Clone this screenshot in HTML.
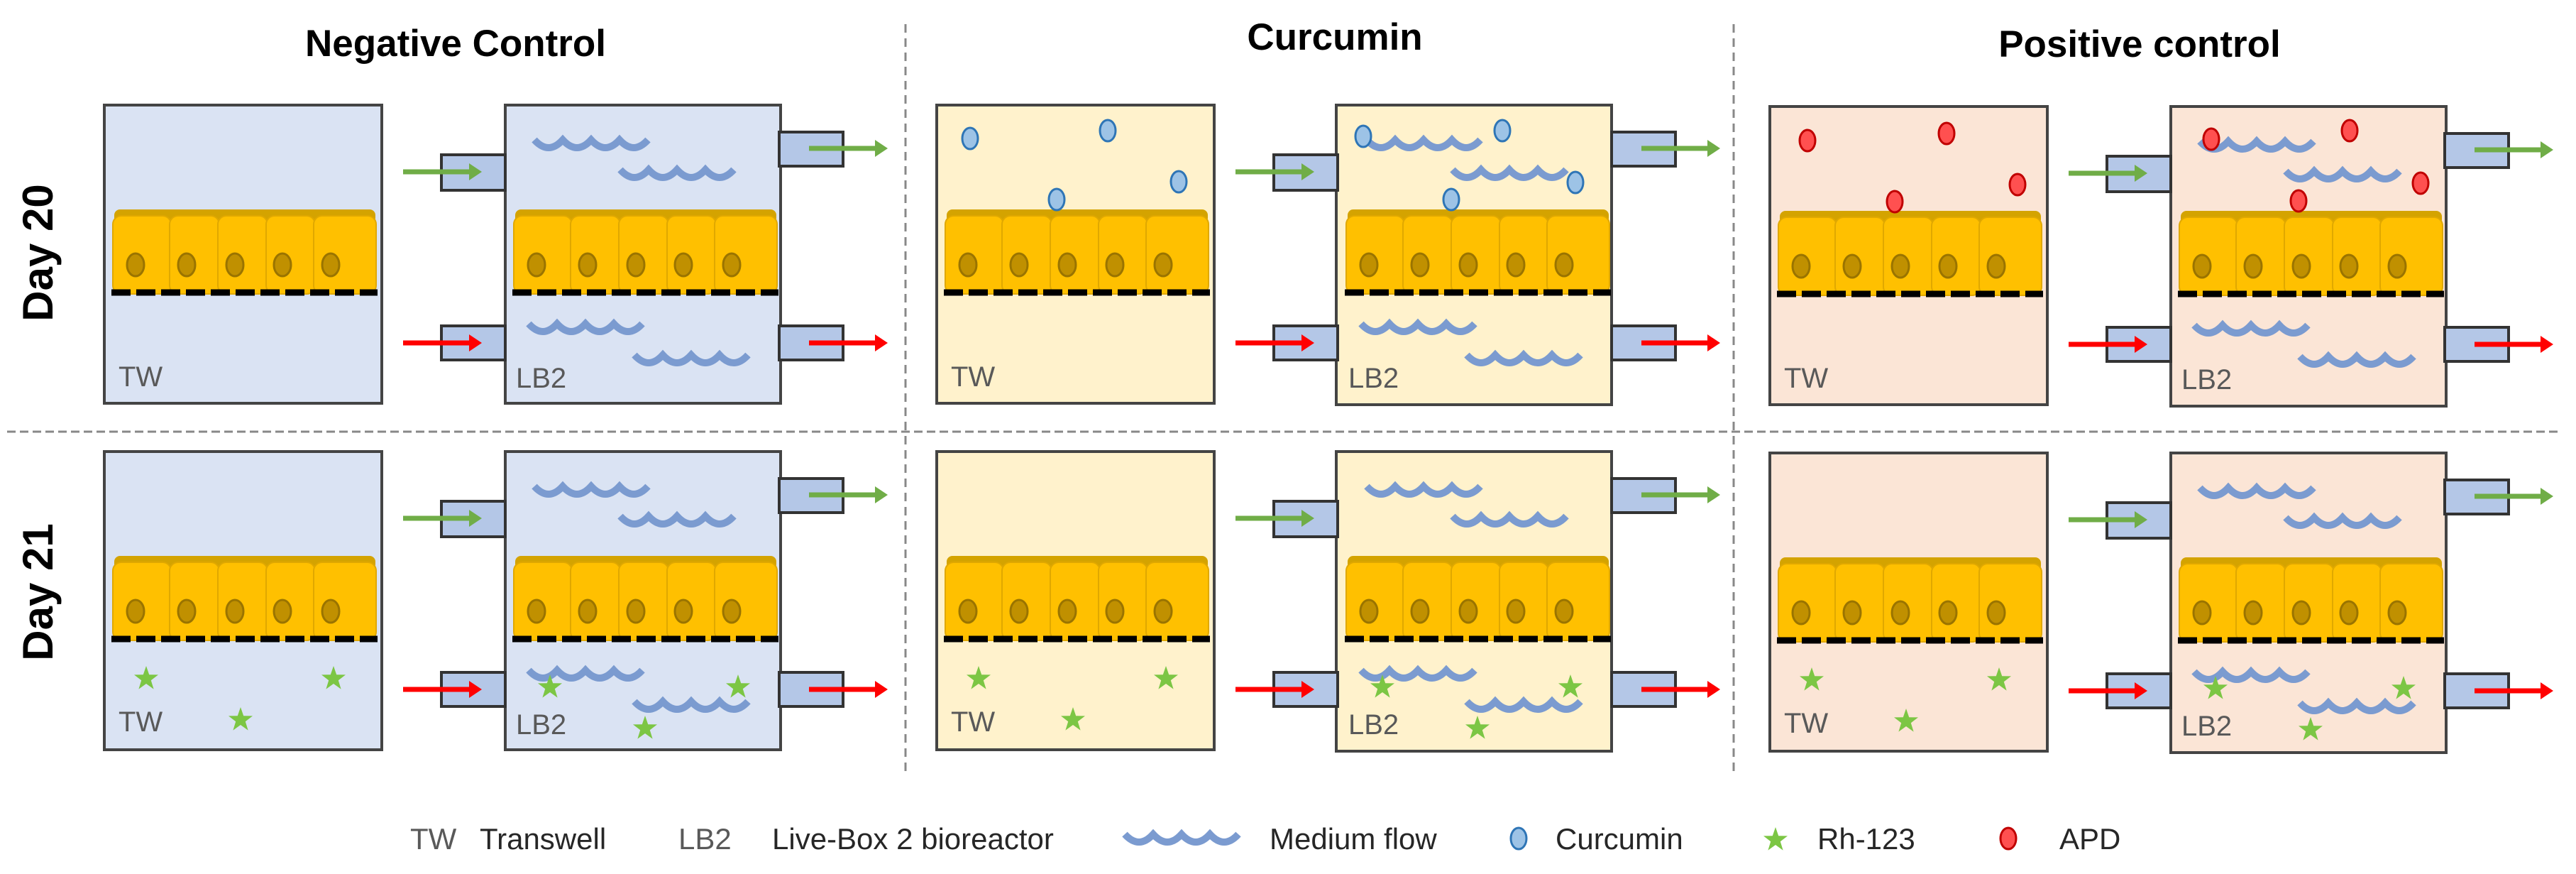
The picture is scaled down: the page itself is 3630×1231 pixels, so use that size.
<!DOCTYPE html>
<html><head><meta charset="utf-8">
<style>
html,body{margin:0;padding:0;background:#fff;}
svg{display:block;}
text{font-family:"Liberation Sans",Arial,sans-serif;}
</style></head>
<body>
<svg width="3630" height="1231" viewBox="0 0 3630 1231" xmlns="http://www.w3.org/2000/svg">
<defs>
  <g id="cells">
    <rect x="14" y="147" width="368" height="20" rx="8" fill="#D4A300"/>
    <rect x="12" y="156" width="82" height="110" rx="12" fill="#FFC000" stroke="#E0A800" stroke-width="2"/>
    <rect x="92" y="156" width="70" height="110" rx="12" fill="#FFC000" stroke="#E0A800" stroke-width="2"/>
    <rect x="160" y="156" width="70" height="110" rx="12" fill="#FFC000" stroke="#E0A800" stroke-width="2"/>
    <rect x="228" y="156" width="69" height="110" rx="12" fill="#FFC000" stroke="#E0A800" stroke-width="2"/>
    <rect x="295" y="156" width="88" height="110" rx="12" fill="#FFC000" stroke="#E0A800" stroke-width="2"/>
    <g fill="#C09000" stroke="#9A7400" stroke-width="3">
      <ellipse cx="44" cy="225" rx="12" ry="16"/>
      <ellipse cx="116" cy="225" rx="12" ry="16"/>
      <ellipse cx="184" cy="225" rx="12" ry="16"/>
      <ellipse cx="251" cy="225" rx="12" ry="16"/>
      <ellipse cx="319" cy="225" rx="12" ry="16"/>
    </g>
    <line x1="10" y1="264" x2="385" y2="264" stroke="#000" stroke-width="9" stroke-dasharray="27 8"/>
  </g>
  <path id="wave" d="M0,5 Q20,27 40,5 Q60,27 80,5 Q100,27 120,5 Q140,27 160,5" fill="none" stroke="#7B9BD0" stroke-width="10"/>
  <polygon id="star" points="0,-18 4.2,-5.8 17,-5.6 6.8,2.2 10.6,14.6 0,7 -10.6,14.6 -6.8,2.2 -17,-5.6 -4.2,-5.8" fill="#7CC644"/>
  <ellipse id="cur" rx="11" ry="15" fill="#9DC3E6" stroke="#2E75B6" stroke-width="3"/>
  <ellipse id="apd" rx="11" ry="15" fill="#FF5050" stroke="#C00000" stroke-width="3"/>
  <g id="ports">
    <g fill="#B4C7E7" stroke="#333" stroke-width="4">
      <rect x="475" y="70" width="90" height="50"/>
      <rect x="951" y="38" width="90" height="48"/>
      <rect x="475" y="311" width="90" height="48"/>
      <rect x="951" y="311" width="90" height="48"/>
    </g>
    <g stroke-width="7">
      <line x1="421" y1="94" x2="516" y2="94" stroke="#70AD47"/>
      <polygon points="514,82 532,94 514,106" fill="#70AD47"/>
      <line x1="993" y1="61" x2="1088" y2="61" stroke="#70AD47"/>
      <polygon points="1086,49 1104,61 1086,73" fill="#70AD47"/>
      <line x1="421" y1="335" x2="516" y2="335" stroke="#FF0000"/>
      <polygon points="514,323 532,335 514,347" fill="#FF0000"/>
      <line x1="993" y1="335" x2="1088" y2="335" stroke="#FF0000"/>
      <polygon points="1086,323 1104,335 1086,347" fill="#FF0000"/>
    </g>
  </g>
  <g id="inner">
    <use href="#cells"/>
    <use href="#cells" x="565"/>
    <use href="#wave" x="606" y="44"/>
    <use href="#wave" x="727" y="86"/>
    <use href="#wave" x="598" y="303"/>
    <use href="#wave" x="747" y="347"/>
  </g>
  <g id="stars">
    <use href="#star" x="59" y="320"/>
    <use href="#star" x="323" y="320"/>
    <use href="#star" x="192" y="378"/>
    <use href="#star" x="628" y="332"/>
    <use href="#star" x="893" y="332"/>
    <use href="#star" x="762" y="390"/>
  </g>
</defs>

<line x1="1276" y1="34" x2="1276" y2="1090" stroke="#888" stroke-width="3" stroke-dasharray="12 8"/>
<line x1="2443" y1="34" x2="2443" y2="1090" stroke="#888" stroke-width="3" stroke-dasharray="12 8"/>
<line x1="10" y1="608" x2="3610" y2="608" stroke="#888" stroke-width="3" stroke-dasharray="12 6"/>

<text x="642" y="79" font-size="53" font-weight="bold" text-anchor="middle">Negative Control</text>
<text x="1881" y="70" font-size="53" font-weight="bold" text-anchor="middle">Curcumin</text>
<text x="3015" y="80" font-size="53" font-weight="bold" text-anchor="middle">Positive control</text>

<text transform="translate(74,356) rotate(-90)" font-size="60" font-weight="bold" text-anchor="middle">Day 20</text>
<text transform="translate(74,834) rotate(-90)" font-size="60" font-weight="bold" text-anchor="middle">Day 21</text>

<g transform="translate(147,148)">
  <rect x="0" y="0" width="391" height="420" fill="#DAE3F3" stroke="#444" stroke-width="4"/>
  <rect x="565" y="0" width="388" height="420" fill="#DAE3F3" stroke="#444" stroke-width="4"/>
  <use href="#ports"/><use href="#inner"/>
  <text x="20" y="396" font-size="40" fill="#595959">TW</text>
  <text x="580" y="398" font-size="40" fill="#595959">LB2</text>
</g>
<g transform="translate(147,636)">
  <rect x="0" y="0" width="391" height="420" fill="#DAE3F3" stroke="#444" stroke-width="4"/>
  <rect x="565" y="0" width="388" height="420" fill="#DAE3F3" stroke="#444" stroke-width="4"/>
  <use href="#ports"/><use href="#inner"/><use href="#stars"/>
  <text x="20" y="394" font-size="40" fill="#595959">TW</text>
  <text x="580" y="398" font-size="40" fill="#595959">LB2</text>
</g>
<g transform="translate(1320,148)">
  <rect x="0" y="0" width="391" height="420" fill="#FFF2CC" stroke="#444" stroke-width="4"/>
  <rect x="563" y="0" width="388" height="422" fill="#FFF2CC" stroke="#444" stroke-width="4"/>
  <use href="#ports"/><use href="#inner"/>
  <use href="#cur" x="47" y="47"/><use href="#cur" x="241" y="36"/><use href="#cur" x="341" y="108"/><use href="#cur" x="169" y="133"/>
  <use href="#cur" x="601" y="44"/><use href="#cur" x="797" y="36"/><use href="#cur" x="900" y="109"/><use href="#cur" x="725" y="133"/>
  <text x="20" y="396" font-size="40" fill="#595959">TW</text>
  <text x="580" y="398" font-size="40" fill="#595959">LB2</text>
</g>
<g transform="translate(1320,636)">
  <rect x="0" y="0" width="391" height="420" fill="#FFF2CC" stroke="#444" stroke-width="4"/>
  <rect x="563" y="0" width="388" height="422" fill="#FFF2CC" stroke="#444" stroke-width="4"/>
  <use href="#ports"/><use href="#inner"/><use href="#stars"/>
  <text x="20" y="394" font-size="40" fill="#595959">TW</text>
  <text x="580" y="398" font-size="40" fill="#595959">LB2</text>
</g>
<g transform="translate(2494,150)">
  <rect x="0" y="0" width="391" height="420" fill="#FBE5D6" stroke="#444" stroke-width="4"/>
  <rect x="565" y="0" width="388" height="422" fill="#FBE5D6" stroke="#444" stroke-width="4"/>
  <use href="#ports"/><use href="#inner"/>
  <use href="#apd" x="53" y="48"/><use href="#apd" x="249" y="38"/><use href="#apd" x="349" y="110"/><use href="#apd" x="176" y="134"/>
  <use href="#apd" x="622" y="46"/><use href="#apd" x="817" y="34"/><use href="#apd" x="917" y="108"/><use href="#apd" x="745" y="133"/>
  <text x="20" y="396" font-size="40" fill="#595959">TW</text>
  <text x="580" y="398" font-size="40" fill="#595959">LB2</text>
</g>
<g transform="translate(2494,638)">
  <rect x="0" y="0" width="391" height="420" fill="#FBE5D6" stroke="#444" stroke-width="4"/>
  <rect x="565" y="0" width="388" height="422" fill="#FBE5D6" stroke="#444" stroke-width="4"/>
  <use href="#ports"/><use href="#inner"/><use href="#stars"/>
  <text x="20" y="394" font-size="40" fill="#595959">TW</text>
  <text x="580" y="398" font-size="40" fill="#595959">LB2</text>
</g>

<g font-size="42">
  <text x="578" y="1196" fill="#595959">TW</text>
  <text x="676" y="1196" fill="#262626">Transwell</text>
  <text x="956" y="1196" fill="#595959">LB2</text>
  <text x="1088" y="1196" fill="#262626">Live-Box 2 bioreactor</text>
  <use href="#wave" x="1585" y="1170"/>
  <text x="1789" y="1196" fill="#262626">Medium flow</text>
  <use href="#cur" x="2140" y="1181"/>
  <text x="2192" y="1196" fill="#262626">Curcumin</text>
  <use href="#star" x="2502" y="1183"/>
  <text x="2561" y="1196" fill="#262626">Rh-123</text>
  <use href="#apd" x="2830" y="1181"/>
  <text x="2902" y="1196" fill="#262626">APD</text>
</g>
</svg>
</body></html>
